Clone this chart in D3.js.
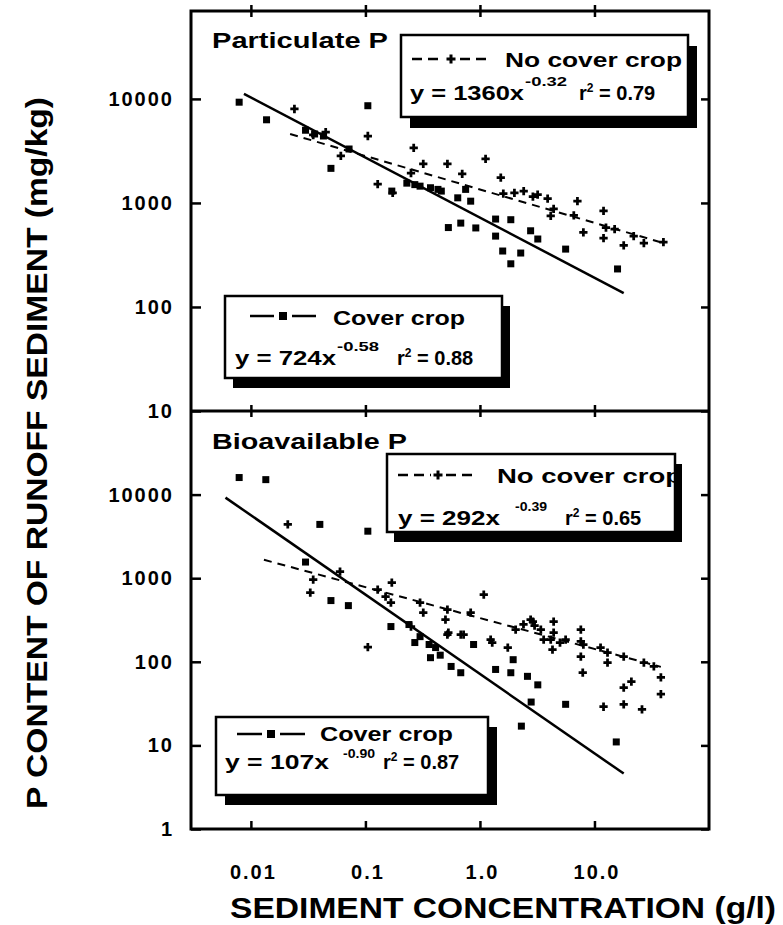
<!DOCTYPE html>
<html>
    <head>
        <meta charset="utf-8">
        <script src="https://d3js.org/d3.v7.min.js"></script>
        <style>
            body { margin:0; background:#fff; }
            svg text { font-family:"Liberation Sans", Arial, Helvetica, sans-serif; font-weight:bold; fill:#000; }
            .axis path { display:none; }
            .axis line { stroke:#000; stroke-width:2.5px; }
            .axis text { font-size:20px; letter-spacing:2px; }
            .fit { fill:none; stroke:#000; stroke-width:2.5px; }
            .fit.dashed { stroke-dasharray:8,6; stroke-width:2px; }
        </style>
    </head>
    <body>
        <div id="chart"></div>
        <script>
            // axis ticks
            var xTicks = [0.01, 0.1, 1, 10];
            var xTickLabels = ["0.01", "0.1", "1.0", "10.0"];
            var yTicksTop = [10, 100, 1000, 10000];
            var yTicksBottom = [1, 10, 100, 1000, 10000];

            // Particulate P : [sediment g/l, P mg/kg]
            var partCover = [[0.0079,9300],[0.0137,6300],[0.105,8600],[0.05,2150],[0.03,5000],[0.036,4600],[0.043,4400],
                [0.072,3300],[0.23,1550],[0.27,1500],[0.3,1450],[0.37,1400],[0.43,1350],[0.46,1300],[0.17,1300],
                [0.64,1120],[0.83,1040],[0.53,580],[0.68,640],[0.92,575],[1.37,700],[1.86,690],[1.37,480],[1.58,345],
                [2.27,330],[1.86,260],[2.77,540],[3.2,450],[5.6,360],[15.9,232],[0.75,1350]];
            var partNoCover = [[0.024,8000],[0.105,4400],[0.264,3380],[1.12,2650],[1.52,1750],[0.52,2370],[0.32,2370],
                [0.25,1940],[0.128,1520],[0.173,1250],[0.061,2830],[0.035,4500],[0.045,4800],[2.41,1300],[3.19,1200],
                [3.9,1100],[2.9,1150],[4.4,875],[7.1,1040],[6.6,760],[4.15,750],[8.0,520],[12,840],[12.6,580],[12,460],
                [15,560],[18,390],[22,480],[27,410],[40,420],[0.7,1900],[1.6,1230],[2.0,1250]];

            // Bioavailable P
            var bioCover = [[0.0079,16000],[0.0135,15100],[0.04,4400],[0.105,3650],[0.03,1560],[0.05,540],[0.071,470],
                [0.167,264],[0.24,279],[0.27,170],[0.36,161],[0.41,148],[0.37,112],[0.56,88],[0.68,74],[0.88,161],
                [1.37,81],[1.86,74],[1.95,106],[2.6,67],[3.2,53],[2.8,33],[5.6,31],[2.3,17],[15.5,11],[0.3,200],[0.45,120]];
            var bioNoCover = [[0.021,4400],[0.105,150],[0.17,885],[0.035,962],[0.033,673],[0.06,1200],[0.128,731],
                [0.167,511],[0.25,264],[0.32,388],[0.52,421],[1.08,637],[0.83,388],[0.52,211],[0.72,211],[1.28,170],
                [1.75,148],[2.05,243],[2.77,320],[3.4,243],[3.6,184],[4.4,223],[5.0,170],[7.6,243],[7.6,175],[7.9,74],
                [0.15,603],[0.30,511],[2.9,303],[4.4,303],[4.15,184],[4.3,140],[5.6,184],[8.0,161],[7.6,115],[11.3,148],
                [13,129],[13,98],[18,115],[27,98],[33,88],[38,65],[38,41],[21,58],[18,49],[12,29],[18,31],[26,27],
                [0.53,223],[0.68,211],[1.24,184],[0.5,320],[2.4,280],[3.0,270]];

            // regression lines as drawn (end points)
            var partCoverFit = [[0.0087,11200],[18,136]];
            var partNoCoverFit = [[0.022,4600],[40,412]];
            var bioCoverFit = [[0.006,9200],[18,4.6]];
            var bioNoCoverFit = [[0.013,1660],[38,87]];

            var width = 783, height = 925;
            var svg = d3.select("#chart").append("svg")
                .attr("width", width)
                .attr("height", height);

            var x = d3.scaleLog().domain([0.003, 100]).range([191, 709]);
            var yTop = d3.scaleLog().domain([10, 70000]).range([411, 11]);
            var yBot = d3.scaleLog().domain([1, 100000]).range([829, 411]);

            function txt(g, px, py, s, size, len) {
                var t = g.append("text").attr("x", px).attr("y", py)
                    .attr("font-size", size).text(s);
                if (len) t.attr("textLength", len).attr("lengthAdjust", "spacingAndGlyphs");
                return t;
            }

            function drawPanel(y, cover, noCover, coverFit, noCoverFit, yTicks) {
                var g = svg.append("g");
                var line = d3.line().x(function(d) { return x(d[0]); }).y(function(d) { return y(d[1]); });

                g.append("path").datum(noCoverFit).attr("class", "fit dashed").attr("d", line);
                g.append("path").datum(coverFit).attr("class", "fit").attr("d", line);

                g.selectAll(".sq").data(cover).enter().append("rect")
                    .attr("x", function(d) { return x(d[0]) - 3.5; })
                    .attr("y", function(d) { return y(d[1]) - 3.5; })
                    .attr("width", 7).attr("height", 7);

                g.selectAll(".pl").data(noCover).enter().append("path")
                    .attr("d", d3.symbol(d3.symbolCross, 38))
                    .attr("transform", function(d) { return "translate(" + x(d[0]) + "," + y(d[1]) + ")"; });

                // left ticks with labels
                svg.append("g").attr("class", "axis")
                    .attr("transform", "translate(191,0)")
                    .call(d3.axisLeft(y).tickValues(yTicks).tickFormat(d3.format("d")).tickSize(-10).tickPadding(17));
                svg.append("g").attr("class", "axis")
                    .attr("transform", "translate(709,0)")
                    .call(d3.axisRight(y).tickValues(yTicks).tickFormat("").tickSize(-8));
            }

            drawPanel(yTop, partCover, partNoCover, partCoverFit, partNoCoverFit, yTicksTop);
            drawPanel(yBot, bioCover, bioNoCover, bioCoverFit, bioNoCoverFit, yTicksBottom);

            // x ticks: top, divider, bottom
            svg.append("g").attr("class", "axis").attr("transform", "translate(0,11)")
                .call(d3.axisTop(x).tickValues(xTicks).tickFormat("").tickSize(6));
            svg.append("g").attr("class", "axis").attr("transform", "translate(0,11)")
                .call(d3.axisBottom(x).tickValues(xTicks).tickFormat("").tickSize(6));
            svg.append("g").attr("class", "axis").attr("transform", "translate(0,411)")
                .call(d3.axisTop(x).tickValues(xTicks).tickFormat("").tickSize(6));
            svg.append("g").attr("class", "axis").attr("transform", "translate(0,411)")
                .call(d3.axisBottom(x).tickValues(xTicks).tickFormat("").tickSize(6));
            svg.append("g").attr("class", "axis").attr("transform", "translate(0,829)")
                .call(d3.axisBottom(x).tickValues(xTicks)
                    .tickFormat(function(d, i) { return xTickLabels[i]; })
                    .tickSize(-8).tickPadding(36))
                .selectAll("text").attr("dx", 2);

            // frame and divider
            svg.append("rect").attr("x", 191).attr("y", 11).attr("width", 518).attr("height", 818)
                .attr("fill", "none").attr("stroke", "#000").attr("stroke-width", 3);
            svg.append("line").attr("x1", 191).attr("x2", 709).attr("y1", 411).attr("y2", 411)
                .attr("stroke", "#000").attr("stroke-width", 3);

            // panel titles
            txt(svg, 212, 48, "Particulate P", 22, 176);
            txt(svg, 212, 449, "Bioavailable P", 22, 195);

            function legendBox(bx, by, bw, bh, dx, dy) {
                var g = svg.append("g");
                g.append("rect").attr("x", bx + dx).attr("y", by + dy).attr("width", bw).attr("height", bh).attr("fill", "#000");
                g.append("rect").attr("x", bx).attr("y", by).attr("width", bw).attr("height", bh)
                    .attr("fill", "#fff").attr("stroke", "#000").attr("stroke-width", 2.5);
                return g;
            }

            function noCoverSample(g, x0, x1, ly) {
                g.append("line").attr("x1", x0).attr("x2", x1).attr("y1", ly).attr("y2", ly)
                    .attr("stroke", "#000").attr("stroke-width", 2.5).attr("stroke-dasharray", "10,6");
                g.append("rect").attr("x", (x0 + x1) / 2 - 7).attr("y", ly - 3).attr("width", 14).attr("height", 6).attr("fill", "#fff");
                g.append("path").attr("d", d3.symbol(d3.symbolCross, 45))
                    .attr("transform", "translate(" + (x0 + x1) / 2 + "," + ly + ")");
            }

            function coverSample(g, x0, x1, ly) {
                var m = (x0 + x1) / 2;
                g.append("line").attr("x1", x0).attr("x2", m - 9).attr("y1", ly).attr("y2", ly).attr("stroke", "#000").attr("stroke-width", 2.5);
                g.append("line").attr("x1", m + 9).attr("x2", x1).attr("y1", ly).attr("y2", ly).attr("stroke", "#000").attr("stroke-width", 2.5);
                g.append("rect").attr("x", m - 4).attr("y", ly - 4).attr("width", 8).attr("height", 8);
            }

            function equation(g, ex, ey, main, mainLen, expo, expX, expLen, r2X, r2, rise) {
                txt(g, ex, ey, main, 20, mainLen);
                txt(g, expX, ey - rise, expo, 12, expLen);
                var t = g.append("text").attr("x", r2X).attr("y", ey).attr("font-size", 20);
                t.append("tspan").text("r");
                t.append("tspan").attr("font-size", 12).attr("dy", -8).text("2");
                t.append("tspan").attr("dy", 8).text(" = " + r2);
            }

            // upper legends
            var lg = legendBox(401, 35, 287, 82, 9, 11);
            noCoverSample(lg, 412, 490, 59);
            txt(lg, 505, 67, "No cover crop", 20, 177);
            equation(lg, 410, 100, "y = 1360x", 114, "-0.32", 525, 42, 579, "0.79", 14);

            lg = legendBox(225, 296, 277, 82, 8, 10);
            coverSample(lg, 250, 316, 316);
            txt(lg, 333, 325, "Cover crop", 20, 132);
            equation(lg, 235, 365, "y = 724x", 101, "-0.58", 337, 42, 397, "0.88", 14);

            // lower legends
            lg = legendBox(387, 454, 288, 78, 7, 10);
            noCoverSample(lg, 398, 478, 475);
            txt(lg, 497, 483, "No cover crop", 20, 185);
            equation(lg, 398, 525, "y = 292x", 102, "-0.39", 515, 32, 565, "0.65", 14);

            lg = legendBox(216, 717, 272, 78, 9, 10);
            coverSample(lg, 237, 305, 734);
            txt(lg, 320, 741, "Cover crop", 20, 133);
            equation(lg, 225, 769, "y = 107x", 104, "-0.90", 343, 32, 383, "0.87", 11);

            // axis titles
            txt(svg, 230, 918, "SEDIMENT CONCENTRATION (g/l)", 29, 546);
            txt(svg, 0, 0, "P CONTENT OF RUNOFF SEDIMENT (mg/kg)", 30, 712)
                .attr("text-anchor", "middle")
                .attr("transform", "translate(47,453) rotate(-90)");
        </script>
    </body>
</html>
